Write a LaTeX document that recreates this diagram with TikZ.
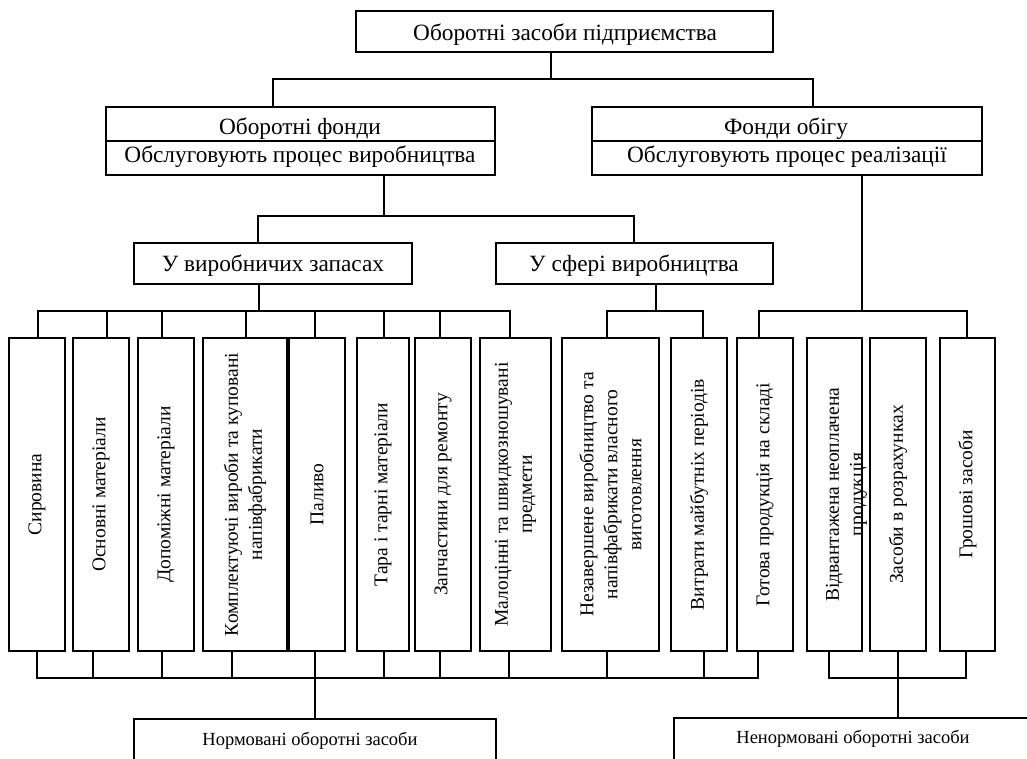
\documentclass[tikz,border=0pt]{standalone}
\usepackage{fontspec}
\setmainfont{Liberation Serif}
\begin{document}
\begin{tikzpicture}[x=1pt,y=-1pt,line width=1.1pt,
  box/.style={draw,inner sep=0pt,outer sep=0pt,anchor=north west},
  lbl/.style={inner sep=0pt,anchor=base,font=\fontsize{23.3}{27}\selectfont},
  vlbl/.style={inner sep=0pt,rotate=90,align=center,font=\fontsize{19.5}{24}\selectfont},
  blbl/.style={inner sep=0pt,anchor=base,font=\fontsize{18.5}{22}\selectfont}]
\useasboundingbox (0,0) rectangle (1027,758);
\clip (0,0) rectangle (1027,758);
% top level
\node[box,minimum width=417pt,minimum height=41pt] (top) at (356,11) {};
\node[lbl] (ttop) at (565,40) {Оборотні засоби підприємства};
% second level
\node[box,minimum width=389pt,minimum height=68pt] (of) at (106,107) {};
\draw (of.west |- 0,141) -- (of.east |- 0,141);
\node[lbl] (tof1) at (300,134) {Оборотні фонди};
\node[lbl] (tof2) at (300,162) {Обслуговують процес виробництва};
\node[box,minimum width=390pt,minimum height=68pt] (fo) at (592,107) {};
\draw (fo.west |- 0,141) -- (fo.east |- 0,141);
\node[lbl] (tfo1) at (786,134) {Фонди обігу};
\node[lbl] (tfo2) at (787,162) {Обслуговують процес реалізації};
% third level
\node[box,minimum width=278pt,minimum height=41pt] (vz) at (134,243) {};
\node[lbl] (tvz) at (273,271) {У виробничих запасах};
\node[box,minimum width=277pt,minimum height=41pt] (sv) at (496,243) {};
\node[lbl] (tsv) at (634,271) {У сфері виробництва};
% vertical boxes
\foreach \n/\xa/\xb in {b1/9/65,b2/73/129,b3/138/194,b4/203/287,b5/289/345,b6/357/409,b7/415/471,b8/480/551,b9/562/659,b10/671/727,b11/737/793,b12/807/862,b13/870/926,b14/940/995}{
  \pgfmathsetmacro\w{\xb-\xa}
  \node[box,minimum width=\w pt,minimum height=313pt] (\n) at (\xa,338) {};
}
\node[vlbl] (t1) at (b1.center) {Сировина};
\node[vlbl] (t2) at (b2.center) {Основні матеріали};
\node[vlbl] (t3) at (b3.center) {Допоміжні матеріали};
\node[vlbl] (t4) at (b4.center) {Комплектуючі вироби та куповані\\напівфабрикати};
\node[vlbl] (t5) at (b5.center) {Паливо};
\node[vlbl] (t6) at (b6.center) {Тара і тарні матеріали};
\node[vlbl] (t7) at (b7.center) {Запчастини для ремонту};
\node[vlbl] (t8) at (b8.center) {Малоцінні та швидкозношувані\\предмети};
\node[vlbl] (t9) at (b9.center) {Незавершене виробництво та\\напівфабрикати власного\\виготовлення};
\node[vlbl] (t10) at (b10.center) {Витрати майбутніх періодів};
\node[vlbl] (t11) at (b11.center) {Готова продукція на складі};
\node[vlbl] (t12) at (846.5,494.5) {Відвантажена неоплачена\\продукція};
\node[vlbl] (t13) at (b13.center) {Засоби в розрахунках};
\node[vlbl] (t14) at (b14.center) {Грошові засоби};
% bottom boxes
\node[box,minimum width=362pt,minimum height=80pt] (norm) at (134,719) {};
\node[blbl] (tnorm) at (310,745) {Нормовані оборотні засоби};
\node[box,minimum width=400pt,minimum height=80pt] (nenorm) at (674,718) {};
\node[blbl] (tnenorm) at (853,743) {Ненормовані оборотні засоби};
% bus coordinates
\coordinate (j0) at (551,79);
\coordinate (j0l) at (273,79);
\coordinate (j0r) at (813,79);
\coordinate (j1) at (384,216);
\coordinate (j1l) at (258,216);
\coordinate (j1r) at (634,216);
\coordinate (j2a) at (259,311);
\coordinate (j2b) at (656,311);
\coordinate (j2c) at (862,311);
\coordinate (j3a) at (315,678);
\coordinate (j3b) at (898,678);
% connectors level 0-1
\draw (top.south -| j0) -- (j0);
\draw (of.north -| j0l) -- (j0l) -- (j0r) -- (fo.north -| j0r);
% level 1-2
\draw (of.south -| j1) -- (j1);
\draw (vz.north -| j1l) -- (j1l) -- (j1r) -- (sv.north -| j1r);
% level 2-3 top buses
\draw (vz.south -| j2a) -- (j2a);
\draw (sv.south -| j2b) -- (j2b);
\draw (fo.south -| j2c) -- (j2c);
\draw (b1.north -| 38,0) -- (38,311) -- (510,311) -- (b8.north -| 510,0);
\foreach \n/\x in {b2/107,b3/162,b4/246,b5/315,b6/384,b7/440}{
  \draw (\n.north -| \x,0) -- (\x,311);
}
\draw (b9.north -| 607,0) -- (607,311) -- (703,311) -- (b10.north -| 703,0);
\draw (b11.north -| 759,0) -- (759,311) -- (967,311) -- (b14.north -| 967,0);
% bottom buses
\draw (b1.south -| 37,0) -- (37,678) -- (758,678) -- (b11.south -| 758,0);
\foreach \n/\x in {b2/93,b3/162,b4/232,b5/315,b6/384,b7/440,b8/509,b9/607,b10/704}{
  \draw (\n.south -| \x,0) -- (\x,678);
}
\draw (b12.south -| 829,0) -- (829,678) -- (966,678) -- (b14.south -| 966,0);
\draw (b13.south -| j3b) -- (j3b);
\draw (j3a) -- (norm.north -| j3a);
\draw (j3b) -- (nenorm.north -| j3b);
\end{tikzpicture}
\end{document}
